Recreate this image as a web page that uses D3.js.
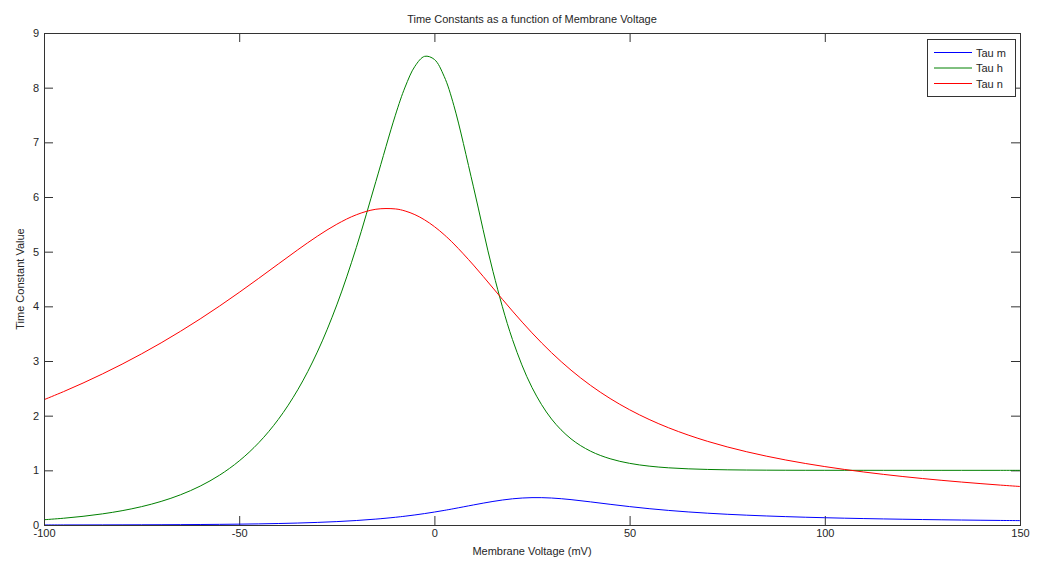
<!DOCTYPE html>
<html lang="en">
<head>
<meta charset="UTF-8">
<title>Time Constants</title>
<script src="https://d3js.org/d3.v7.min.js"></script>
<style>
  body { margin: 0; background: #fff; }
  text { font-family: "Liberation Sans", Arial, sans-serif; font-size: 11px; fill: #262626; }
  .frame { fill: none; stroke: #333; stroke-width: 1; }
  .tick line { stroke: #333; }
  .curve { fill: none; stroke-width: 1; }
</style>
</head>
<body>
<script>
// membrane voltage samples (mV)
var voltage = [-100, -95, -90, -85, -80, -75, -70, -65, -60, -55, -50, -45, -40, -35, -30, -25,
  -20, -15, -10, -7.5, -5, -2.5, 0, 2.5, 5, 10, 15, 20, 25, 30, 35, 40, 45, 50, 55, 60, 65, 70,
  75, 80, 85, 90, 95, 100, 105, 110, 115, 120, 125, 130, 135, 140, 145, 150];

var tauM = [0.001, 0.0013, 0.0017, 0.0022, 0.0029, 0.0039, 0.0051, 0.0068, 0.0089, 0.0118, 0.0155,
  0.0205, 0.0271, 0.0358, 0.0472, 0.0622, 0.0820, 0.1078, 0.1412, 0.1613, 0.1839, 0.2090, 0.2368,
  0.2669, 0.2991, 0.3668, 0.4310, 0.4791, 0.5007, 0.4935, 0.4642, 0.4229, 0.3786, 0.3365, 0.2989,
  0.2666, 0.2391, 0.2159, 0.1963, 0.1796, 0.1653, 0.1530, 0.1423, 0.1330, 0.1248, 0.1175, 0.1110,
  0.1052, 0.1000, 0.0952, 0.0909, 0.0869, 0.0833, 0.0800];

var tauH = [0.0963, 0.1236, 0.1587, 0.2038, 0.2617, 0.3360, 0.4314, 0.5539, 0.7112, 0.9131, 1.1722,
  1.5045, 1.9300, 2.4733, 3.1626, 4.0260, 5.0770, 6.2820, 7.4960, 8.0110, 8.3900, 8.5730, 8.5160,
  8.2060, 7.6700, 6.1860, 4.6400, 3.3930, 2.5150, 1.9390, 1.5757, 1.3504, 1.2122, 1.1280, 1.0769,
  1.0460, 1.0273, 1.0161, 1.0094, 1.0054, 1.0031, 1.0017, 1.0009, 1.0004, 1.0002, 1.0001, 1.0000,
  1.0000, 1.0000, 1.0000, 1.0000, 1.0000, 1.0000, 1.0000];

var tauN = [2.2920, 2.4397, 2.5969, 2.7642, 2.9420, 3.1311, 3.3318, 3.5448, 3.7699, 4.0068, 4.2549,
  4.5119, 4.7738, 5.0337, 5.2815, 5.5021, 5.6747, 5.7758, 5.7821, 5.7441, 5.6773, 5.5815, 5.4586,
  5.3107, 5.1413, 4.7549, 4.3346, 3.9131, 3.5146, 3.1525, 2.8323, 2.5540, 2.3142, 2.1081, 1.9308,
  1.7780, 1.6455, 1.5300, 1.4287, 1.3394, 1.2601, 1.1893, 1.1258, 1.0685, 1.0166, 0.9693, 0.9262,
  0.8866, 0.8502, 0.8166, 0.7855, 0.7566, 0.7297, 0.7046];

var seriesNames = ["Tau m", "Tau h", "Tau n"];
var seriesColors = ["#0000ff", "#008000", "#ff0000"];
var xTicks = [-100, -50, 0, 50, 100, 150];
var yTicks = [0, 1, 2, 3, 4, 5, 6, 7, 8, 9];

var width = 1041, height = 561;
var margin = {top: 33, right: 21, bottom: 36, left: 44};
var w = width - margin.left - margin.right;
var h = height - margin.top - margin.bottom;

var svg = d3.select("body").append("svg")
    .attr("width", width).attr("height", height);
var g = svg.append("g").attr("transform", "translate(" + margin.left + "," + margin.top + ")");

var x = d3.scaleLinear().domain([-100, 150]).range([0, w]);
var y = d3.scaleLinear().domain([0, 9]).range([h, 0]);

// ticks pointing inward on all four sides
var tl = 9;
g.append("g").attr("class", "axis").attr("transform", "translate(0," + h + ")")
  .call(d3.axisBottom(x).tickValues(xTicks).tickSize(-tl).tickPadding(4).tickFormat(d => String(d)))
  .call(s => s.select(".domain").remove());
g.append("g").attr("class", "axis")
  .call(d3.axisTop(x).tickValues(xTicks).tickSize(-tl).tickFormat(""))
  .call(s => s.select(".domain").remove());
g.append("g").attr("class", "axis")
  .call(d3.axisLeft(y).tickValues(yTicks).tickSize(-tl).tickPadding(5).tickFormat(d => String(d)))
  .call(s => s.select(".domain").remove());
g.append("g").attr("class", "axis").attr("transform", "translate(" + w + ",0)")
  .call(d3.axisRight(y).tickValues(yTicks).tickSize(-tl).tickFormat(""))
  .call(s => s.select(".domain").remove());

g.selectAll(".axis text").style("font-family", "Liberation Sans, Arial, sans-serif")
  .style("font-size", "11px").attr("fill", "#262626");
g.selectAll(".axis .tick line").attr("stroke", "#333");

var series = [tauM, tauH, tauN];
var line = d3.line()
    .x((d, i) => x(voltage[i]))
    .y(d => y(d))
    .curve(d3.curveCatmullRom.alpha(0.5));

g.append("g").selectAll("path.curve")
  .data(series).enter().append("path")
  .attr("class", "curve")
  .attr("stroke", (d, i) => seriesColors[i])
  .attr("d", line);

g.append("rect").attr("class", "frame")
  .attr("x", 0.5).attr("y", 0.5).attr("width", w).attr("height", h);

// title and axis labels
svg.append("text").attr("x", margin.left + w / 2).attr("y", 23)
  .attr("text-anchor", "middle").text("Time Constants as a function of Membrane Voltage");
svg.append("text").attr("x", margin.left + w / 2).attr("y", 555)
  .attr("text-anchor", "middle").text("Membrane Voltage (mV)");
svg.append("text").attr("transform", "translate(24," + (margin.top + h / 2) + ") rotate(-90)")
  .attr("text-anchor", "middle").text("Time Constant Value");

// legend
var lg = svg.append("g").attr("transform", "translate(927,39)");
lg.append("rect").attr("x", 0.5).attr("y", 0.5).attr("width", 88).attr("height", 57)
  .attr("fill", "#fff").attr("stroke", "#333");
var items = lg.selectAll("g.item").data(seriesNames).enter().append("g")
  .attr("class", "item")
  .attr("transform", (d, i) => "translate(0," + (13.5 + i * 15.5) + ")");
items.append("line").attr("x1", 7).attr("x2", 45).attr("y1", 0).attr("y2", 0)
  .attr("stroke", (d, i) => seriesColors[i]);
items.append("text").attr("x", 49).attr("y", 4).text(d => d);
</script>
</body>
</html>
